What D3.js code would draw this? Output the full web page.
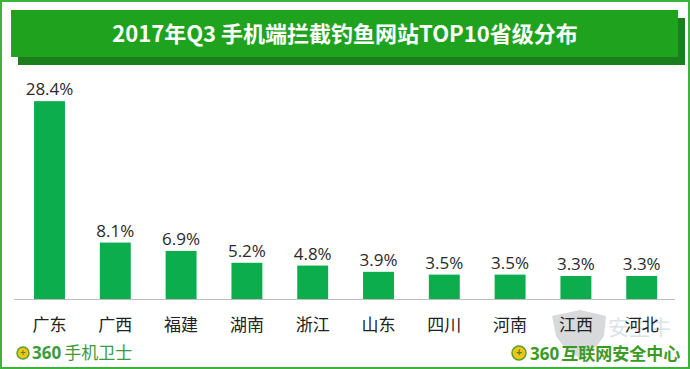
<!DOCTYPE html>
<html>
<head>
<meta charset="utf-8">
<script src="https://cdn.jsdelivr.net/npm/d3@7"></script>
<style>
  html, body { margin: 0; padding: 0; background: #fff; }
  svg { display: block; }
</style>
</head>
<body>
<div class="canvas"></div>
<script>
// data
const provinces = ['广东', '广西', '福建', '湖南', '浙江', '山东', '四川', '河南', '江西', '河北']
const shares = [28.4, 8.1, 6.9, 5.2, 4.8, 3.9, 3.5, 3.5, 3.3, 3.3]
const titleText = '2017年Q3 手机端拦截钓鱼网站TOP10省级分布'

const svgWidth = 690, svgHeight = 369
const baseline = 299

const svg = d3.select('.canvas')
  .append('svg')
  .attr('width', svgWidth)
  .attr('height', svgHeight)

// outer frame
svg.append('rect')
  .attr('x', 1).attr('y', 1)
  .attr('width', svgWidth - 2).attr('height', svgHeight - 2)
  .attr('fill', '#fff')
  .attr('stroke', '#3cb43c')
  .attr('stroke-width', 2)

// title banner + shadow
svg.append('rect')
  .attr('x', 18).attr('y', 18)
  .attr('width', 667).attr('height', 47)
  .attr('fill', '#1c7d1c')
svg.append('rect')
  .attr('x', 11).attr('y', 10)
  .attr('width', 667).attr('height', 47)
  .attr('fill', '#1fa31f')
svg.append('text')
  .attr('x', 345).attr('y', 42)
  .attr('text-anchor', 'middle')
  .attr('fill', '#fff')
  .style('font-family', '"Noto Sans CJK SC", "Open Sans", sans-serif')
  .style('font-weight', 'bold')
  .style('font-size', '22px')
  .text(titleText)

// scales
const x = d3.scaleBand()
  .domain(provinces)
  .range([16.6, 674.6])
  .paddingInner(0.53)
  .paddingOuter(0.265)

const y = d3.scaleLinear()
  .domain([0, 30])
  .range([baseline, 90])

// faint watermark at the bottom right (sits behind labels, as in the source image)
const wm = svg.append('g').style('opacity', 0.3)
wm.append('path')
  .attr('d', 'M552,316 L580,310 L606,316 L604,336 Q594,352 580,358 Q566,352 556,336 Z')
  .attr('fill', '#7d848b')
wm.append('text')
  .attr('x', 608).attr('y', 335)
  .attr('fill', '#8fa3b5')
  .style('font-family', '"Noto Sans CJK SC", sans-serif')
  .style('font-size', '21px')
  .text('安生牛')

// axis
const xAxis = d3.axisBottom(x).tickSize(0).tickPadding(20)
const xAxisGroup = svg.append('g')
  .attr('transform', `translate(0, ${baseline})`)
  .call(xAxis)
xAxisGroup.select('.domain')
  .attr('d', 'M14,0.5H675')
  .attr('stroke', '#bdbdbd')
xAxisGroup.selectAll('text')
  .attr('fill', '#222')
  .style('font-family', '"Noto Sans CJK SC", sans-serif')
  .style('font-size', '17px')

// bars
const rows = provinces.map((p, i) => ({ name: p, value: shares[i] }))

svg.selectAll('rect.bar')
  .data(rows)
  .enter()
  .append('rect')
  .attr('class', 'bar')
  .attr('x', d => x(d.name))
  .attr('y', d => y(d.value))
  .attr('width', x.bandwidth())
  .attr('height', d => baseline - y(d.value))
  .attr('fill', '#0cad4c')

svg.selectAll('text.val')
  .data(rows)
  .enter()
  .append('text')
  .attr('class', 'val')
  .attr('x', d => x(d.name) + x.bandwidth() / 2)
  .attr('y', d => y(d.value) - 6)
  .attr('text-anchor', 'middle')
  .attr('fill', '#2a2a2a')
  .style('font-family', '"Open Sans", sans-serif')
  .style('font-size', '17px')
  .text(d => d.value.toFixed(1) + '%')

// footer logos
const logo = (cx, cy, r) => {
  svg.append('circle')
    .attr('cx', cx).attr('cy', cy).attr('r', r)
    .attr('fill', '#f0c419')
    .attr('stroke', '#5aa02c')
    .attr('stroke-width', 1.5)
  svg.append('text')
    .attr('x', cx).attr('y', cy + r * 0.45)
    .attr('text-anchor', 'middle')
    .attr('fill', '#3f8f22')
    .style('font-family', 'sans-serif')
    .style('font-weight', 'bold')
    .style('font-size', (r * 1.5) + 'px')
    .text('+')
}

logo(23, 353, 6)
svg.append('text')
  .attr('x', 32).attr('y', 359)
  .attr('fill', '#3d9a3d')
  .style('font-family', '"Noto Sans CJK SC", sans-serif')
  .style('font-size', '17px')
  .call(t => t.append('tspan').style('font-weight', 'bold').style('font-family', '"Open Sans", sans-serif').text('360'))
  .call(t => t.append('tspan').attr('dx', 3).text('手机卫士'))

logo(519, 353, 7)
svg.append('text')
  .attr('x', 530).attr('y', 360)
  .attr('fill', '#3b9a24')
  .style('font-family', '"Noto Sans CJK SC", sans-serif')
  .style('font-weight', 'bold')
  .style('font-size', '17px')
  .call(t => t.append('tspan').style('font-family', '"Open Sans", sans-serif').text('360'))
  .call(t => t.append('tspan').attr('dx', 2).text('互联网安全中心'))
</script>
</body>
</html>
